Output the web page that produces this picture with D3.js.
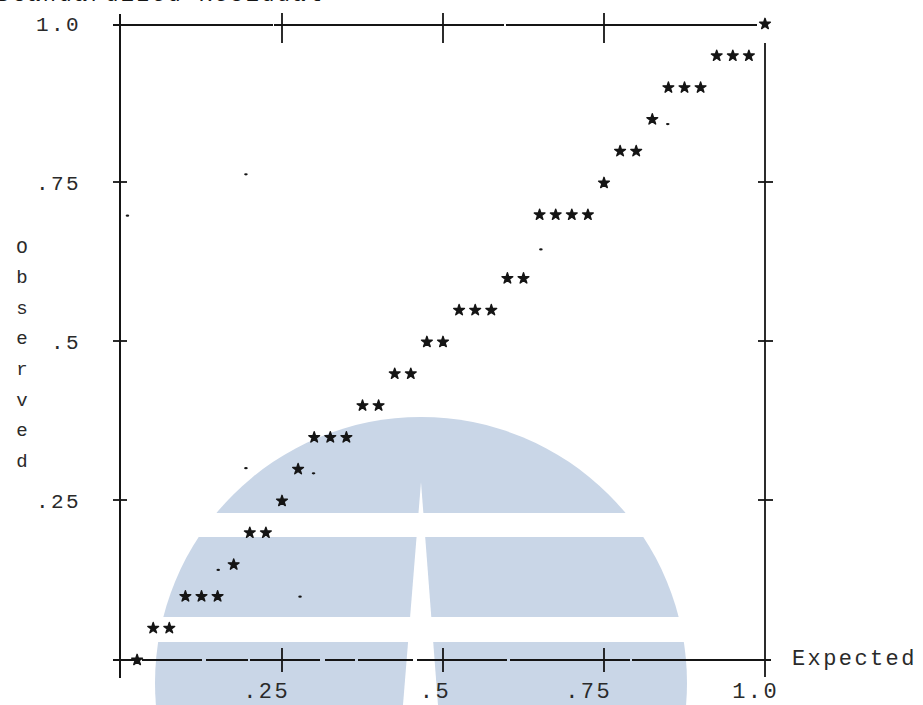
<!DOCTYPE html>
<html>
<head>
<meta charset="utf-8">
<script src="https://cdn.jsdelivr.net/npm/d3@7"></script>
<style>
  html, body { margin: 0; padding: 0; background: #fff; }
  svg { display: block; }
</style>
</head>
<body>
<svg id="chart" width="923" height="705"></svg>
<script>
// Normal P-P plot of the standardized residual, printed with asterisks.

// Observed cumulative probability for each printed row.
const observedRows = [1.00, 0.95, 0.90, 0.85, 0.80, 0.75, 0.70, 0.60, 0.55, 0.50,
                      0.45, 0.40, 0.35, 0.30, 0.25, 0.20, 0.15, 0.10, 0.05, 0.00];
// Expected cumulative probabilities of the asterisks on each row.
const expectedByRow = [
  [1.000],
  [0.925, 0.950, 0.975],
  [0.850, 0.875, 0.900],
  [0.825],
  [0.775, 0.800],
  [0.750],
  [0.650, 0.675, 0.700, 0.725],
  [0.600, 0.625],
  [0.525, 0.550, 0.575],
  [0.475, 0.500],
  [0.425, 0.450],
  [0.375, 0.400],
  [0.300, 0.325, 0.350],
  [0.275],
  [0.250],
  [0.200, 0.225],
  [0.175],
  [0.100, 0.125, 0.150],
  [0.050, 0.075],
  [0.025]
];
// Stray printer marks (expected, observed).
const speckX = [0.194, 0.010, 0.849, 0.652, 0.299, 0.194, 0.151, 0.278];
const speckY = [0.762, 0.697, 0.841, 0.644, 0.292, 0.300, 0.140, 0.098];

const tickValues = [0.25, 0.5, 0.75, 1.0];
const tickLabels = [".25", ".5", ".75", "1.0"];
const yTitle = ["O", "b", "s", "e", "r", "v", "e", "d"];
const xTitle = "Expected";
const topTitle = "Standardized Residual";

const svg = d3.select("#chart");
const x = d3.scaleLinear().domain([0, 1]).range([121, 765]);
const y = d3.scaleLinear().domain([0, 1]).range([659, 23]);

const ink = "#151515";
const mono = "'Liberation Mono', 'DejaVu Sans Mono', monospace";

// Background emblem: a disc split by two white bands and a tapering gap.
const logo = svg.append("g").attr("class", "emblem");
const cx = 421, cy = 683, r = 266;
logo.append("circle").attr("cx", cx).attr("cy", cy).attr("r", r).attr("fill", "#c9d6e7");
logo.append("rect").attr("x", 100).attr("y", 513).attr("width", 700).attr("height", 24).attr("fill", "#fff");
logo.append("rect").attr("x", 100).attr("y", 617).attr("width", 700).attr("height", 25).attr("fill", "#fff");
logo.append("path")
  .attr("d", `M${cx},482 L${cx + 17},705 L${cx - 18},705 Z`)
  .attr("fill", "#fff");

// Clipped heading at the very top.
svg.append("text")
  .attr("x", -4).attr("y", 0.5)
  .attr("font-family", mono).attr("font-size", 22)
  .attr("letter-spacing", 2.4)
  .attr("fill", ink)
  .text(topTitle);

// Frame
const frame = svg.append("g")
  .attr("stroke", ink).attr("stroke-width", 2).attr("fill", "none")
  .attr("stroke-linecap", "butt");
// top
frame.append("line").attr("x1", x(0) - 8).attr("x2", x(1) - 8)
  .attr("y1", y(1) + 2).attr("y2", y(1) + 2)
  .attr("stroke-dasharray", "160,1,230,2,400");
// left
frame.append("line").attr("x1", x(0) - 1).attr("x2", x(0) - 1)
  .attr("y1", 14).attr("y2", 678);
// right
frame.append("line").attr("x1", x(1)).attr("x2", x(1))
  .attr("y1", 43).attr("y2", 677).attr("stroke-width", 1.8);
// bottom
frame.append("line").attr("x1", x(0) - 8).attr("x2", x(1) + 6)
  .attr("y1", y(0) + 1).attr("y2", y(0) + 1)
  .attr("stroke-width", 1.8)
  .attr("stroke-dasharray", "26,3,60,4,42,2,70,5,30,3,55,4,90,3,120,2,200");

// Tick marks on all four sides
const ticks = svg.append("g").attr("stroke", ink).attr("stroke-width", 1.8);
tickValues.filter(v => v < 1).forEach(v => {
  ticks.append("line").attr("x1", x(v)).attr("x2", x(v)).attr("y1", 13).attr("y2", 43);
  ticks.append("line").attr("x1", x(v)).attr("x2", x(v)).attr("y1", y(0) - 11).attr("y2", y(0) + 13);
  ticks.append("line").attr("y1", y(v)).attr("y2", y(v)).attr("x1", x(0) - 8).attr("x2", x(0) + 6);
  ticks.append("line").attr("y1", y(v)).attr("y2", y(v)).attr("x1", x(1) - 7).attr("x2", x(1) + 8);
});

// Tick labels
const labels = svg.append("g")
  .attr("font-family", mono).attr("fill", "#2a2a2a")
  .attr("letter-spacing", 2.4);
tickValues.forEach((v, i) => {
  labels.append("text")
    .attr("x", 81).attr("y", y(v)).attr("dy", "0.36em")
    .attr("text-anchor", "end").attr("font-size", 21)
    .text(tickLabels[i]);
  labels.append("text")
    .attr("x", x(v) + (v === 1 ? 14 : 8)).attr("y", 698)
    .attr("text-anchor", "end").attr("font-size", 22)
    .text(tickLabels[i]);
});

// Axis titles
labels.append("text")
  .attr("x", 792).attr("y", 665)
  .attr("font-size", 22)
  .text(xTitle);
const yT = svg.append("g").attr("font-family", mono).attr("fill", "#2a2a2a").attr("font-size", 19);
yTitle.forEach((ch, i) => {
  yT.append("text")
    .attr("x", 22).attr("y", 246 + i * 30.6).attr("dy", "0.35em")
    .attr("text-anchor", "middle")
    .text(ch);
});

// Asterisks
const points = observedRows.flatMap((o, i) => expectedByRow[i].map(e => ({ e, o })));
const star = d3.symbol().type(d3.symbolStar).size(36);
svg.append("g").selectAll("path")
  .data(points)
  .join("path")
  .attr("transform", d => `translate(${x(d.e)},${y(d.o) + 1})`)
  .attr("d", star)
  .attr("fill", ink).attr("stroke", ink).attr("stroke-width", 1.4)
  .attr("stroke-linejoin", "round");

// Stray marks
svg.append("g").selectAll("ellipse")
  .data(speckX.map((v, i) => ({ e: v, o: speckY[i] })))
  .join("ellipse")
  .attr("cx", d => x(d.e)).attr("cy", d => y(d.o))
  .attr("rx", 1.8).attr("ry", 1.1)
  .attr("fill", ink);
</script>
</body>
</html>
